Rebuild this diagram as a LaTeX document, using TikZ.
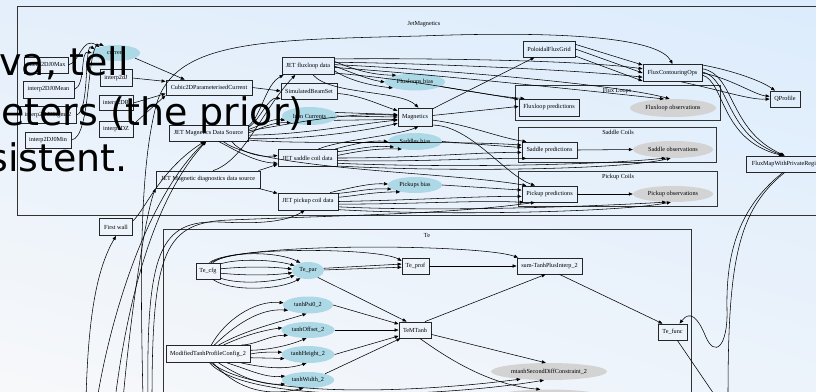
\documentclass[tikz,border=0pt]{standalone}
\usepackage{fontspec}
\setmainfont{Liberation Serif}
\newfontfamily\ovfont{DejaVu Sans}
\usetikzlibrary{shapes.geometric,arrows.meta,shadings}
\definecolor{nodeblue}{RGB}{173,216,230}
\definecolor{nodegrey}{RGB}{211,211,211}
\definecolor{bgul}{RGB}{228,239,251}
\definecolor{bgur}{RGB}{220,236,252}
\definecolor{bgll}{RGB}{247,248,250}
\definecolor{bglr}{RGB}{236,243,251}
\begin{document}
\begin{tikzpicture}[x=1pt,y=-1pt,
  lbl/.style={font=\fontsize{6.2}{7}\selectfont},
  box/.style={lbl,draw=black!85,line width=0.8pt,rectangle,inner xsep=1pt,inner ysep=0pt},
  bell/.style={lbl,ellipse,fill=nodeblue,draw=none,inner sep=0pt},
  gell/.style={lbl,ellipse,fill=nodegrey,draw=none,inner sep=0pt},
  cluster/.style={draw=black!80,line width=0.6pt},
  edge/.style={draw=black,line width=0.55pt,-{Triangle[length=4pt,width=3.2pt]}},
  ov/.style={anchor=base east,font=\ovfont\fontsize{38}{44}\selectfont,text=black,inner sep=0pt}]
\useasboundingbox (0,0) rectangle (816,391);
\shade[upper left=bgul,upper right=bgur,lower left=bgll,lower right=bglr] (0,0) rectangle (816,391);
\clip (0,0) rectangle (816,391);

% clusters
\draw[cluster] (17,6) rectangle (830,215);
\node[lbl] (cJet) at (424,24) {JetMagnetics};
\draw[cluster] (515,85) rectangle (720,120);
\node[lbl] (cFlux) at (617,91) {Flux Loops};
\draw[cluster] (518,127) rectangle (716,162);
\node[lbl] (cSad) at (618,132) {Saddle Coils};
\draw[cluster] (518,171) rectangle (717,206);
\node[lbl] (cPick) at (618,177) {Pickup Coils};
\draw[cluster] (163,229) rectangle (691,420);
\node[lbl] (cTe) at (427,235) {Te};

% nodes: left
\node[box,minimum width=44pt,minimum height=16pt] (j0max) at (46,65) {interp2DJ0Max};
\node[box,minimum width=51pt,minimum height=17pt] (j0mean) at (48.5,89.5) {interp2DJ0Mean};
\node[box,minimum width=56pt,minimum height=17pt] (j0sig) at (48,115) {interp2DJ0Sigma2};
\node[box,minimum width=46pt,minimum height=16pt] (j0min) at (48,140) {interp2DJ0Min};
\node[bell,minimum width=48pt,minimum height=16pt] (current) at (116,53) {current};
\node[box,minimum width=32pt,minimum height=17pt] (interpJ) at (116,78) {interp2dJ};
\node[box,minimum width=34pt,minimum height=15pt] (interpR) at (116,103) {interp2DR};
\node[box,minimum width=34pt,minimum height=16pt] (interpZ) at (116,129) {interp2DZ};
\node[box,minimum width=86pt,minimum height=15pt] (cubic) at (209,87.5) {Cubic2DParameterisedCurrent};
\node[box,minimum width=79pt,minimum height=16pt] (jmds) at (208.5,133) {JET Magnetics Data Source};
\node[box,minimum width=104pt,minimum height=17pt] (jmdd) at (208,179.5) {JET Magnetic diagnostics data source};
\node[box,minimum width=33pt,minimum height=17pt] (fwall) at (116,227) {First wall};

% nodes: middle
\node[box,minimum width=52pt,minimum height=17pt] (flux) at (308,66) {JET fluxloop data};
\node[box,minimum width=56pt,minimum height=16pt] (sim) at (309,91) {SimulatedBeamSet};
\node[bell,minimum width=55pt,minimum height=18pt] (iron) at (309.5,116) {Iron Currents};
\node[box,minimum width=59pt,minimum height=17pt] (sad) at (307.5,158) {JET saddle coil data};
\node[box,minimum width=60pt,minimum height=17pt] (pick) at (308,201.5) {JET pickup coil data};
\node[bell,minimum width=60pt,minimum height=17pt] (fbias) at (415,82) {Fluxloops bias};
\node[box,minimum width=34pt,minimum height=18pt] (mag) at (415,117) {Magnetics};
\node[bell,minimum width=54pt,minimum height=17pt] (sbias) at (415,141.5) {Saddles bias};
\node[bell,minimum width=54pt,minimum height=16pt] (pbias) at (415,185) {Pickups bias};

% nodes: right
\node[box,minimum width=52pt,minimum height=16pt] (pfg) at (549,49) {PoloidalFluxGrid};
\node[box,minimum width=59pt,minimum height=17pt] (fco) at (672.5,73) {FluxContouringOps};
\node[box,minimum width=30pt,minimum height=16pt] (qp) at (785,99) {QProfile};
\node[box,minimum width=82pt,minimum height=16pt] (fmap) at (787,164) {FluxMapWithPrivateRegion};
\node[box,minimum width=60pt,minimum height=17pt] (fpred) at (549,107.5) {Fluxloop predictions};
\node[gell,minimum width=86pt,minimum height=18pt] (fobs) at (673,108) {Fluxloop observations};
\node[box,minimum width=55pt,minimum height=16pt] (spred) at (549.5,150) {Saddle predictions};
\node[gell,minimum width=80pt,minimum height=17pt] (sobs) at (673,149.5) {Saddle observations};
\node[box,minimum width=55pt,minimum height=16pt] (ppred) at (549.5,194) {Pickup predictions};
\node[gell,minimum width=80pt,minimum height=16pt] (pobs) at (673,194) {Pickup observations};

% nodes: Te
\node[box,minimum width=24pt,minimum height=16pt] (tcfg) at (208,271) {Te\_cfg};
\node[bell,minimum width=32pt,minimum height=17pt] (tpar) at (308,270.5) {Te\_par};
\node[box,minimum width=27pt,minimum height=16pt] (tprof) at (415.5,266) {Te\_prof};
\node[box,minimum width=65pt,minimum height=16pt] (sumt) at (549.5,266) {sum-TanhPlusInterp\_2};
\node[box,minimum width=29pt,minimum height=16pt] (tfunc) at (672.5,332) {Te\_func};
\node[box,minimum width=32pt,minimum height=16pt] (tm) at (415,330) {TeMTanh};
\node[bell,minimum width=50pt,minimum height=17pt] (tp0) at (308,305) {tanhPsi0\_2};
\node[bell,minimum width=53pt,minimum height=16pt] (tof) at (308,330) {tanhOffset\_2};
\node[bell,minimum width=53pt,minimum height=17pt] (th) at (308,354.5) {tanhHeight\_2};
\node[bell,minimum width=52pt,minimum height=16pt] (tw) at (308,380) {tanhWidth\_2};
\node[box,minimum width=84pt,minimum height=17pt] (mtcfg) at (208,354) {ModifiedTanhProfileConfig\_2};
\node[gell,minimum width=116pt,minimum height=17pt] (mt2) at (549,371.5) {mtanhSecondDiffConstraint\_2};
\node[gell,minimum width=116pt,minimum height=17pt] (mt3) at (549,398) {};

% off-image ends
\coordinate (b1) at (86,400);
\coordinate (b2) at (97,400);
\coordinate (b3) at (115,400);
\coordinate (b4) at (123,400);
\coordinate (b5) at (143,400);
\coordinate (b6) at (148,400);
\coordinate (b7) at (152,400);
\coordinate (b8) at (728,400);
\coordinate (b9) at (718,400);

% edges: left group
\draw[edge] (j0max.east) .. controls (80,62) and (82,36) .. (current.160);
\draw[edge] (j0mean.east) .. controls (86,85) and (80,50) .. (current.west);
\draw[edge] (j0sig.east) .. controls (90,112) and (84,42) .. (current.170);
\draw[edge] (j0min.east) .. controls (92,138) and (86,38) .. (current.150);
\draw[edge] (current.-15) -- (cubic.162);
\draw[edge] (interpJ.east) -- (cubic.172);
\draw[edge] (interpR.east) -- (cubic.188);
\draw[edge] (interpZ.15) -- (cubic.south west);
\draw[edge] (cubic.east) -- (sim.west);

% JET Magnetics Data Source
\draw[edge] (jmds.10) .. controls (262,115) and (265,85) .. (flux.200);
\draw[edge] (jmds.8) .. controls (260,120) and (268,97) .. (sim.195);
\draw[edge] (jmds.5) .. controls (262,125) and (272,118) .. (iron.190);
\draw[edge] (jmds.0) .. controls (262,128) and (272,122) .. (iron.200);
\draw[edge] (jmds.3) .. controls (300,122) and (350,112) .. (mag.175);
\draw[edge] (jmds.-3) .. controls (300,135) and (350,125) .. (mag.190);
\draw[edge] (jmds.-8) .. controls (300,140) and (360,132) .. (mag.200);
\draw[edge] (jmds.-20) .. controls (240,152) and (260,158) .. (sad.175);
\draw[edge] (jmds.-40) .. controls (235,150) and (255,162) .. (sad.190);
\draw[edge] (jmds.-10) .. controls (300,145) and (450,140) .. (spred.170);
\draw[edge] (jmds.-30) .. controls (260,170) and (450,172) .. (ppred.160);

% JET fluxloop data
\draw[edge] (flux.10) .. controls (350,68) and (370,75) .. (fbias.160);
\draw[edge] (flux.0) .. controls (350,72) and (370,80) .. (fbias.west);
\draw[edge] (flux.-10) .. controls (345,78) and (365,85) .. (fbias.195);
\draw[edge] (flux.15) .. controls (420,58) and (580,60) .. (fco.172);
\draw[edge] (flux.8) .. controls (420,63) and (580,70) .. (fco.188);
\draw[edge] (flux.3) .. controls (450,70) and (620,85) .. (fobs.110);
\draw[edge] (flux.-3) .. controls (450,76) and (600,92) .. (fobs.135);
\draw[edge] (flux.-15) .. controls (420,80) and (480,95) .. (fpred.160);
\draw[edge] (flux.-60) .. controls (330,95) and (400,90) .. (mag.70);

% magnetics region
\draw[edge] (fbias.-10) -- (fpred.165);
\draw[edge] (mag.25) -- (pfg.-150);
\draw[edge] (mag.5) -- (fpred.178);
\draw[edge] (mag.-10) .. controls (470,125) and (500,138) .. (spred.160);
\draw[edge] (mag.-25) .. controls (470,125) and (505,175) .. (ppred.150);
\draw[edge] (iron.8) -- (mag.172);
\draw[edge] (iron.0) -- (mag.west);
\draw[edge] (iron.-10) -- (mag.188);
\draw[edge] (sim.-5) .. controls (360,95) and (380,105) .. (mag.160);
\draw[edge] (sad.40) .. controls (340,140) and (400,135) .. (mag.-70);

% flux grid and contours
\draw[edge] (pfg.10) -- (fco.165);
\draw[edge] (pfg.0) -- (fco.180);
\draw[edge] (pfg.-15) -- (fco.195);
\draw[edge] (b5) .. controls (141,300) and (138,180) .. (155,110) .. controls (170,40) and (260,40) .. (420,36) .. controls (580,30) and (660,40) .. (fco.north);
\draw[edge] (fco.15) .. controls (730,70) and (760,80) .. (qp.140);
\draw[edge] (fco.0) .. controls (730,78) and (755,95) .. (qp.170);
\draw[edge] (fco.-45) .. controls (720,90) and (750,100) .. (qp.west);
\draw[edge] (fco.8) .. controls (735,74) and (728,130) .. (fmap.105);
\draw[edge] (fco.2) .. controls (730,78) and (724,135) .. (fmap.110);
\draw[edge] (fco.-4) .. controls (725,82) and (720,140) .. (fmap.116);
\draw[edge] (fmap.-115) .. controls (735,210) and (726,260) .. (727,310) .. controls (728,345) and (715,360) .. (705,335) .. controls (698,318) and (690,310) .. (tfunc.50);
\draw[edge] (fmap.-105) .. controls (738,210) and (728,260) .. (b8);
\draw[edge] (tfunc.-60) -- (b9);

% saddle
\draw[edge] (sad.12) .. controls (355,150) and (370,145) .. (sbias.195);
\draw[edge] (sad.5) .. controls (355,152) and (375,148) .. (sbias.210);
\draw[edge] (sad.18) .. controls (350,145) and (370,140) .. (sbias.180);
\draw[edge] (sad.0) .. controls (420,158) and (480,152) .. (spred.185);
\draw[edge] (sad.-5) .. controls (420,162) and (480,158) .. (spred.200);
\draw[edge] (sad.-10) .. controls (450,168) and (600,165) .. (sobs.-130);
\draw[edge] (sad.-15) .. controls (450,172) and (620,170) .. (sobs.-105);
\draw[edge] (sbias.east) -- (spred.175);
\draw[edge] (spred.east) -- (sobs.west);

% pickup
\draw[edge] (pick.15) .. controls (355,192) and (370,188) .. (pbias.190);
\draw[edge] (pick.8) .. controls (355,196) and (372,192) .. (pbias.205);
\draw[edge] (pick.22) .. controls (350,188) and (370,183) .. (pbias.178);
\draw[edge] (pick.0) .. controls (420,200) and (480,196) .. (ppred.185);
\draw[edge] (pick.-5) .. controls (420,204) and (480,200) .. (ppred.198);
\draw[edge] (pick.-10) .. controls (450,212) and (600,206) .. (pobs.-130);
\draw[edge] (pick.-15) .. controls (450,216) and (620,212) .. (pobs.-105);
\draw[edge] (pbias.east) -- (ppred.172);
\draw[edge] (ppred.east) -- (pobs.west);

% diagnostics source and first wall
\draw[edge] (jmdd.10) -- (sad.192);
\draw[edge] (jmdd.-10) -- (pick.165);
\draw[edge] (jmdd.60) .. controls (245,160) and (262,110) .. (flux.215);
\draw[edge] (b1) .. controls (88,320) and (96,270) .. (fwall.south);
\draw[edge] (fwall.20) .. controls (145,210) and (160,170) .. (jmds.-115);
\draw[edge] (b2) .. controls (110,320) and (145,200) .. (jmds.-110);
\draw[edge] (b3) .. controls (125,320) and (148,205) .. (jmds.-105);
\draw[edge] (b4) .. controls (130,320) and (145,215) .. (jmdd.south west);
\draw[edge] (b6) .. controls (146,250) and (160,220) .. (220,222) .. controls (260,224) and (285,222) .. (pick.-110);
\draw[edge] (b7) .. controls (152,250) and (165,222) .. (230,220) .. controls (350,215) and (450,214) .. (ppred.-150);

% Te cluster
\draw[edge] (tcfg.60) .. controls (230,250) and (280,252) .. (tpar.135);
\draw[edge] (tcfg.30) .. controls (240,258) and (275,260) .. (tpar.160);
\draw[edge] (tcfg.10) .. controls (250,266) and (275,267) .. (tpar.175);
\draw[edge] (tcfg.-10) .. controls (250,276) and (275,275) .. (tpar.188);
\draw[edge] (tcfg.-30) .. controls (240,285) and (275,282) .. (tpar.200);
\draw[edge] (tcfg.-60) .. controls (230,292) and (280,290) .. (tpar.-135);
\draw[edge] (tcfg.80) .. controls (230,246) and (380,248) .. (tprof.160);
\draw[edge] (tcfg.70) .. controls (240,242) and (480,244) .. (sumt.165);
\draw[edge] (tpar.8) -- (tprof.172);
\draw[edge] (tpar.2) -- (tprof.185);
\draw[edge] (tpar.-35) -- (tm.135);
\draw[edge] (tprof.east) -- (sumt.west);
\draw[edge] (tm.40) -- (sumt.-115);
\draw[edge] (sumt.-40) -- (tfunc.140);
\draw[edge] (tm.-15) -- (mt2.110);
\draw[edge] (tm.-60) .. controls (450,360) and (490,385) .. (mt3.135);
\draw[edge] (tp0.east) -- (tm.160);
\draw[edge] (tof.east) -- (tm.west);
\draw[edge] (th.east) -- (tm.200);
\draw[edge] (tw.20) -- (tm.-150);

\draw[edge] (mtcfg.70) .. controls (225,320) and (255,300) .. (tp0.175);
\draw[edge] (mtcfg.55) .. controls (235,325) and (260,308) .. (tp0.195);
\draw[edge] (mtcfg.40) .. controls (245,330) and (280,322) .. (tp0.-100);
\draw[edge] (mtcfg.30) .. controls (245,335) and (265,330) .. (tof.175);
\draw[edge] (mtcfg.15) .. controls (255,345) and (270,335) .. (tof.195);
\draw[edge] (mtcfg.5) .. controls (265,350) and (285,347) .. (tof.-100);
\draw[edge] (mtcfg.0) .. controls (260,352) and (270,352) .. (th.175);
\draw[edge] (mtcfg.-5) .. controls (260,358) and (270,358) .. (th.190);
\draw[edge] (mtcfg.-15) .. controls (265,368) and (285,370) .. (th.-100);
\draw[edge] (mtcfg.-25) .. controls (250,370) and (265,378) .. (tw.170);
\draw[edge] (mtcfg.-40) .. controls (245,380) and (265,385) .. (tw.190);
\draw[edge] (mtcfg.-60) .. controls (240,392) and (270,396) .. (tw.-120);
\draw[edge] (mtcfg.-70) .. controls (260,400) and (420,392) .. (mt2.195);
\draw[edge] (mtcfg.-80) .. controls (250,406) and (450,396) .. (mt2.-120);

% overlay text
\node[ov] (ov1) at (129,75) {va, tell};
\node[ov] (ov2) at (316,125) {eters (the prior).};
\node[ov] (ov3) at (128,171) {sistent.};
\end{tikzpicture}
\end{document}
